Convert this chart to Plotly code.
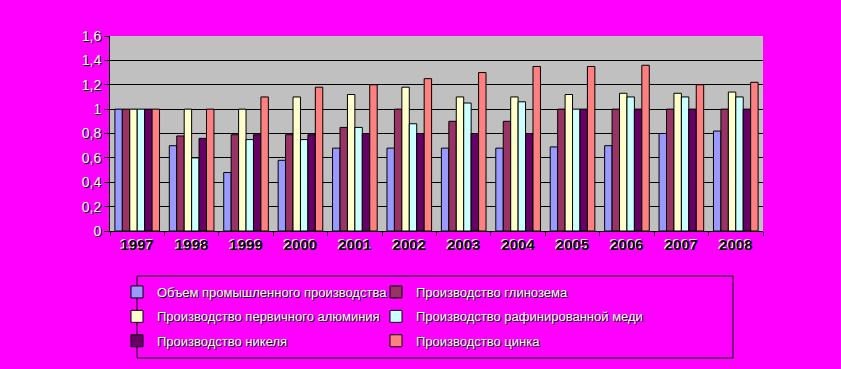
import plotly.graph_objects as go

years = ["1997", "1998", "1999", "2000", "2001", "2002", "2003", "2004", "2005", "2006", "2007", "2008"]

industrial = [1.0, 0.70, 0.48, 0.58, 0.68, 0.68, 0.68, 0.68, 0.69, 0.70, 0.80, 0.82]
alumina = [1.0, 0.78, 0.79, 0.79, 0.85, 1.0, 0.90, 0.90, 1.0, 1.0, 1.0, 1.0]
aluminium = [1.0, 1.0, 1.0, 1.10, 1.12, 1.18, 1.10, 1.10, 1.12, 1.13, 1.13, 1.14]
copper = [1.0, 0.60, 0.75, 0.75, 0.85, 0.88, 1.05, 1.06, 1.0, 1.10, 1.10, 1.10]
nickel = [1.0, 0.76, 0.79, 0.79, 0.80, 0.80, 0.80, 0.80, 1.0, 1.0, 1.0, 1.0]
zinc = [1.0, 1.0, 1.10, 1.18, 1.20, 1.25, 1.30, 1.35, 1.35, 1.36, 1.20, 1.22]

names = [
    "Объем промышленного производства",
    "Производство глинозема",
    "Производство первичного алюминия",
    "Производство рафинированной меди",
    "Производство никеля",
    "Производство цинка",
]
series = [industrial, alumina, aluminium, copper, nickel, zinc]
colors = ["#9999FF", "#993366", "#FFFFCC", "#CCFFFF", "#660066", "#FF8080"]

W, H = 841, 369
ML, MR, MT, MB = 110, 78, 36, 138
PW, PH = W - ML - MR, H - MT - MB


def px_x(p):
    return (p - ML) / PW


def px_y(p):
    return (H - MB - p) / PH


fig = go.Figure()
for i, (name, vals, col) in enumerate(zip(names, series, colors)):
    fig.add_trace(go.Bar(
        x=years, y=vals, name=name,
        legend="legend" if i % 2 == 0 else "legend2",
        legendgroup="g%d" % i,
        marker=dict(color=col, line=dict(color="black", width=1)),
    ))

legend_font = dict(family="Liberation Sans", size=13, color="white", shadow="1px 1px 0px black")
common_leg = dict(
    orientation="v", xanchor="left", yanchor="top",
    y=px_y(277), bgcolor="rgba(0,0,0,0)", borderwidth=0,
    font=legend_font, traceorder="grouped", tracegroupgap=4.5,
)

fig.update_layout(
    width=W, height=H,
    paper_bgcolor="#FF00FF",
    plot_bgcolor="#C0C0C0",
    separators=", ",
    margin=dict(l=ML, r=MR, t=MT, b=MB),
    barmode="group",
    bargap=0.18,
    bargroupgap=0,
    font=dict(family="Liberation Sans", color="black"),
    xaxis=dict(
        showline=True, linecolor="black", linewidth=1,
        ticks="outside", tickson="boundaries", ticklen=4, tickcolor="black",
        tickfont=dict(size=15, color="black", weight="bold", shadow="-1px -1px 0px white"),
        showgrid=False,
    ),
    yaxis=dict(
        range=[0, 1.6], dtick=0.2,
        showline=True, linecolor="black", linewidth=1,
        ticks="outside", ticklen=5, tickcolor="black",
        showgrid=True, gridcolor="black", gridwidth=1,
        tickfont=dict(size=14, color="white", shadow="1px 1px 0px black"),
        tickformat="~g",
        zeroline=False,
    ),
    legend=dict(x=px_x(117), **common_leg),
    legend2=dict(x=px_x(376), **common_leg),
    shapes=[dict(
        type="rect", xref="paper", yref="paper",
        x0=px_x(137), x1=px_x(733), y0=px_y(358), y1=px_y(276),
        line=dict(color="black", width=1), fillcolor="rgba(0,0,0,0)",
    )],
    showlegend=True,
)

fig.write_html("out.html", config={"displayModeBar": False},
               post_script="document.body.style.margin='0';")
